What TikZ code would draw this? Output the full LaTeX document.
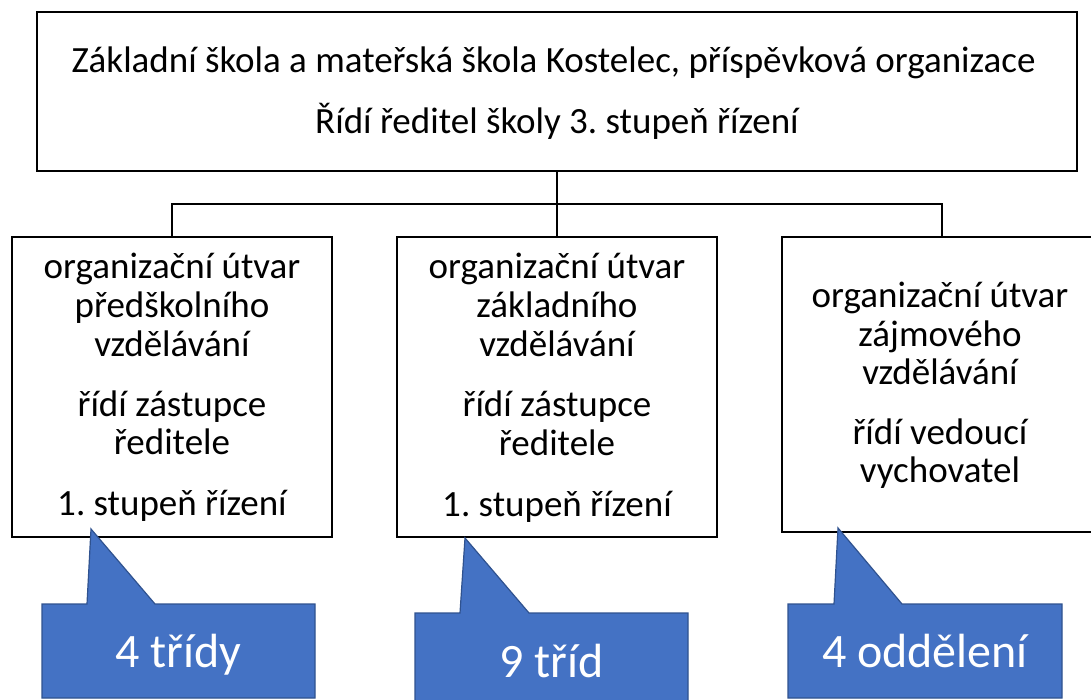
\documentclass[tikz,border=0pt]{standalone}
\usepackage{fontspec}
\setmainfont{Carlito}
\usetikzlibrary{calc}
\definecolor{callblue}{HTML}{4472C4}
\definecolor{callline}{HTML}{2F528F}
\frenchspacing
\begin{document}
\begin{tikzpicture}[x=1pt,y=-1pt,
 box/.style={draw, line width=2.7pt, fill=white, inner sep=0pt, outer sep=0pt},
 conn/.style={line width=2.5pt},
 txt/.style={inner sep=0pt, anchor=base, font=\fontsize{37}{40}\selectfont},
 ctxt/.style={inner sep=0pt, anchor=base, text=white, font=\fontsize{48}{52}\selectfont},
 callbox/.style={inner sep=0pt, outer sep=0pt},
 callout/.style={fill=callblue, draw=callline, line width=1.2pt, line join=miter}]
\useasboundingbox (0,0) rectangle (1091,700);
% boxes
\node[box, minimum width=1040pt, minimum height=159pt] (head) at (557,91.5) {};
\node[box, minimum width=320pt, minimum height=300pt] (b1) at (172,387) {};
\node[box, minimum width=320pt, minimum height=300pt] (b2) at (557,387) {};
\node[box, minimum width=320pt, minimum height=295pt] (b3) at (942,384.5) {};
% connectors
\coordinate (bus) at (0,204);
\draw[conn] (head.south) -- (head.south |- bus);
\draw[conn] (b1.north) -- (b1.north |- bus) -| (b3.north);
\draw[conn] (b2.north) -- (b2.north |- bus);
% header text
\node[txt] (h1) at (553.5,73) {Základní škola a mateřská škola Kostelec, příspěvková organizace};
\node[txt] (h2) at (557,134) {Řídí ředitel školy 3. stupeň řízení};
% left box text
\node[txt] (l1) at (172,279) {organizační útvar};
\node[txt] (l2) at (172,317) {předškolního};
\node[txt] (l3) at (172,356) {vzdělávání};
\node[txt] (l4) at (172,416) {řídí zástupce};
\node[txt] (l5) at (172,454) {ředitele};
\node[txt] (l6) at (172,515) {1. stupeň řízení};
% middle box text
\node[txt] (m1) at (557,279) {organizační útvar};
\node[txt] (m2) at (557,317) {základního};
\node[txt] (m3) at (557,356) {vzdělávání};
\node[txt] (m4) at (557,416) {řídí zástupce};
\node[txt] (m5) at (557,455) {ředitele};
\node[txt] (m6) at (557,516) {1. stupeň řízení};
% right box text
\node[txt] (r1) at (940,308) {organizační útvar};
\node[txt] (r2) at (940,346) {zájmového};
\node[txt] (r3) at (940,384) {vzdělávání};
\node[txt] (r4) at (940,444) {řídí vedoucí};
\node[txt] (r5) at (940,482) {vychovatel};
% callouts
\coordinate (tip1) at (91,529);
\coordinate (tip2) at (465,538);
\coordinate (tip3) at (838,528);
\node[callbox, minimum width=273pt, minimum height=94pt] (c1) at (178.5,651) {};
\node[callbox, minimum width=273pt, minimum height=94pt] (c2) at (551.5,660) {};
\node[callbox, minimum width=274pt, minimum height=94pt] (c3) at (925,651) {};
\draw[callout] (c1.north west) -- ++(45,0) -- (tip1) -- ($(c1.north west)+(113,0)$) -- (c1.north east) -- (c1.south east) -- (c1.south west) -- cycle;
\draw[callout] (c2.north west) -- ++(45,0) -- (tip2) -- ($(c2.north west)+(114,0)$) -- (c2.north east) -- (c2.south east) -- (c2.south west) -- cycle;
\draw[callout] (c3.north west) -- ++(46,0) -- (tip3) -- ($(c3.north west)+(114,0)$) -- (c3.north east) -- (c3.south east) -- (c3.south west) -- cycle;
\node[ctxt] (c1t) at (178.5,667) {4 třídy};
\node[ctxt] (c2t) at (551.5,677) {9 tříd};
\node[ctxt] (c3t) at (925,667) {4 oddělení};
\end{tikzpicture}
\end{document}
